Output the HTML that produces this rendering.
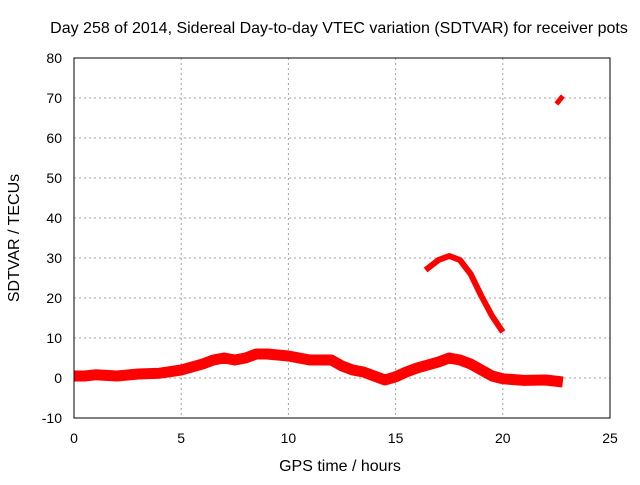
<!DOCTYPE html>
<html><head><meta charset="utf-8"><style>
body{margin:0;background:#fff}
svg text{font-family:"Liberation Sans",sans-serif;font-size:14px;fill:#000}
svg text.big{font-size:16px}
</style></head><body>
<svg id="c" width="640" height="480">
<text class="big" x="339" y="33" text-anchor="middle">Day 258 of 2014, Sidereal Day-to-day VTEC variation (SDTVAR) for receiver pots</text>
<text class="big" x="340" y="471" text-anchor="middle">GPS time / hours</text>
<text class="big" transform="translate(19,238) rotate(-90)" text-anchor="middle">SDTVAR / TECUs</text>
<g id="grid"></g><g id="marks"></g>
<rect x="74" y="58" width="536" height="360" fill="none" stroke="#000"/>
</svg>
<script>
const xTicks=[0,5,10,15,20,25];
const yTicks=[-10,0,10,20,30,40,50,60,70,80];
const mainX=[0,0.5,1,2,3,4,5,6,6.5,7,7.5,8,8.5,9,10,11,12,12.5,13,13.5,14,14.5,15,15.5,16,17,17.5,18,18.5,19,19.5,20,21,22,22.8];
const mainY=[0.5,0.5,0.8,0.5,1,1.2,2,3.5,4.5,5,4.5,5,6,6,5.5,4.5,4.5,3,2,1.5,0.5,-0.5,0.3,1.5,2.5,4,5,4.5,3.5,2,0.5,-0.2,-0.6,-0.5,-1];
const peakX=[16.4,17,17.5,18,18.5,19,19.5,20];
const peakY=[27,29.5,30.5,29.5,26,20.5,15.5,11.5];
const lateX=[22.5,22.8];
const lateY=[68.5,70.5];
const X=v=>74+v*536/25, Y=v=>418-(v+10)*4;
const NS="http://www.w3.org/2000/svg";
const g=document.getElementById('grid'), m=document.getElementById('marks');
function el(t,a,p){const e=document.createElementNS(NS,t);for(const k in a)e.setAttribute(k,a[k]);p.appendChild(e);return e;}
xTicks.forEach(v=>{
 if(v>0&&v<25){const l=el('line',{x1:X(v),x2:X(v),y1:58,y2:418,stroke:'#a0a0a0','stroke-dasharray':'2,3'},g);
 
 }
 const t=el('text',{x:X(v),y:443,'text-anchor':'middle'},g);t.textContent=v;
 
 
});
yTicks.forEach(v=>{
 if(v>-10&&v<80){const l=el('line',{x1:74,x2:610,y1:Y(v),y2:Y(v),stroke:'#a0a0a0','stroke-dasharray':'2,3'},g);
 
 }
 const t=el('text',{x:62,y:Y(v)+5,'text-anchor':'end'},g);t.textContent=v;
 
 
});
function series(xs,ys,w,name){
 const p=el('polyline',{points:xs.map((x,i)=>X(x)+','+Y(ys[i])).join(' '),fill:'none',stroke:'#ff0000','stroke-width':w,'stroke-linejoin':'round'},m);
 
 
}
series(mainX,mainY,11,'main-sdtvar-series');
series(peakX,peakY,6,'peak-sdtvar-series');
series(lateX,lateY,5,'late-sdtvar-series');
</script>
</body></html>
